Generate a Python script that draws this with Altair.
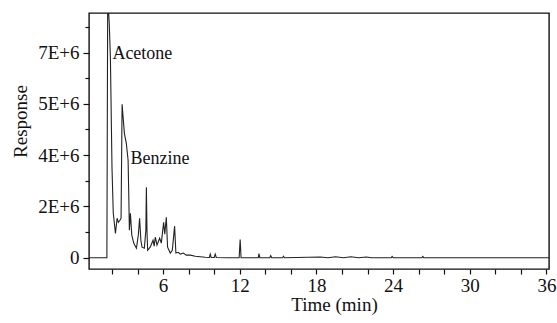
import altair as alt
import pandas as pd

# Chromatogram trace: retention time (min) and detector response
time_min = [
    0.2, 1.60, 1.66, 1.69, 1.78, 1.875, 2.0, 2.1, 2.27, 2.40, 2.5, 2.62, 2.71,
    2.79, 2.97, 3.12, 3.26, 3.32, 3.36, 3.44, 3.55, 3.70, 3.91, 4.06, 4.16,
    4.26, 4.35, 4.53, 4.65, 4.69, 4.74, 4.79, 5.0, 5.21, 5.3, 5.39, 5.52, 5.73,
    5.86, 6.04, 6.13, 6.25, 6.35, 6.56, 6.72, 6.90, 7.0, 7.19, 7.34, 7.58,
    7.81, 8.13, 8.52, 8.9, 9.3, 9.62, 9.69, 9.76, 10.0, 10.08, 10.16, 11.0,
    11.95, 12.03, 12.1, 13.0, 13.45, 13.5, 13.57, 14.35, 14.42, 14.5, 15.35,
    15.42, 15.5, 18.3, 18.9, 19.5, 20.1, 20.7, 21.3, 21.9, 22.3, 23.85, 23.92,
    24.0, 26.25, 26.32, 26.4, 36.2,
]
response = [
    0.0, 0.0, 9.6e6, 9.9e6, 9.2e6, 7.8e6, 3.5e6, 1.73e6, 0.95e6, 1.54e6,
    1.38e6, 1.46e6, 1.54e6, 5.98e6, 4.85e6, 4.46e6, 3.8e6, 2.24e6, 1.07e6,
    1.73e6, 0.88e6, 0.57e6, 0.37e6, 0.88e6, 1.54e6, 0.68e6, 0.41e6, 0.37e6,
    1.07e6, 2.75e6, 1.0e6, 0.29e6, 0.42e6, 0.68e6, 0.45e6, 0.8e6, 0.49e6,
    0.76e6, 0.57e6, 1.38e6, 0.92e6, 1.58e6, 0.41e6, 0.18e6, 0.29e6, 1.23e6,
    0.18e6, 0.21e6, 0.14e6, 0.18e6, 0.1e6, 0.1e6, 0.06e6, 0.04e6, 0.02e6,
    0.01e6, 0.14e6, 0.01e6, 0.01e6, 0.14e6, 0.01e6, 0.0, 0.0, 0.71e6, 0.0,
    0.0, 0.0, 0.16e6, 0.0, 0.0, 0.08e6, 0.0, 0.0, 0.06e6, 0.0, 0.03e6, 0.0,
    0.04e6, 0.0, 0.04e6, 0.0, 0.03e6, 0.0, 0.0, 0.05e6, 0.0, 0.0, 0.05e6,
    0.0, 0.0,
]

# Peak annotations
peak_names = ["Acetone", "Benzine"]
peak_time = [2.03, 3.44]
peak_resp = [7.93e6, 3.84e6]

# Axis ticks
x_ticks = list(range(2, 37, 2))
y_ticks = [0, 1e6, 2e6, 3e6, 4e6, 5e6, 6e6, 7e6, 8e6, 9e6]
y_label_values = [0, 2e6, 4e6, 6e6, 8e6]
y_label_texts = ["0", "2E+6", "4E+6", "5E+6", "7E+6"]

FONT = "Liberation Serif"
INK = "#111111"
AXIS_FS = 19

trace = pd.DataFrame({"t": time_min, "r": response})
peaks = pd.DataFrame({"name": peak_names, "t": peak_time, "r": peak_resp})

y_label_expr = " : ".join(
    f"datum.value == {int(v)} ? '{s}'" for v, s in zip(y_label_values, y_label_texts)
) + " : ''"
y_major_test = " || ".join(f"datum.value == {int(v)}" for v in y_label_values)

x_scale = alt.Scale(domain=[0.2, 36.2], nice=False, zero=False)
y_scale = alt.Scale(domain=[-0.44e6, 9.54e6], nice=False, zero=False)

x_axis = alt.Axis(
    values=x_ticks,
    labelExpr="datum.value % 6 === 0 ? '' + datum.value : ''",
    labelOverlap=False,
    labelBound=False,
    labelFlush=False,
    title="Time (min)",
    titleX=245,
    titleY=41,
    titleAnchor="start",
    titleAlign="center",
    titleBaseline="alphabetic",
    domain=False,
    grid=False,
    ticks=True,
    tickSize=5,
    tickColor=INK,
    tickWidth=1.2,
    labelPadding=2,
    labelFont=FONT,
    labelFontSize=AXIS_FS,
    labelColor=INK,
    titleFont=FONT,
    titleFontSize=AXIS_FS,
    titleFontWeight="normal",
    titleColor=INK,
)

y_axis = alt.Axis(
    values=y_ticks,
    labelExpr=y_label_expr,
    labelOverlap=False,
    labelBound=False,
    labelFlush=False,
    title="Response",
    titleX=-69,
    titleY=108,
    titleAngle=270,
    titleAlign="center",
    titleBaseline="middle",
    domain=False,
    grid=False,
    ticks=True,
    tickSize={"condition": {"test": y_major_test, "value": 6}, "value": 4},
    tickColor=INK,
    tickWidth=1.2,
    labelPadding=4,
    labelFont=FONT,
    labelFontSize=AXIS_FS,
    labelColor=INK,
    titleFont=FONT,
    titleFontSize=AXIS_FS,
    titleFontWeight="normal",
    titleColor=INK,
)

line = alt.Chart(trace).mark_line(
    color="#222222", strokeWidth=1.1, clip=True, interpolate="linear"
).encode(
    x=alt.X("t:Q", scale=x_scale, axis=x_axis),
    y=alt.Y("r:Q", scale=y_scale, axis=y_axis),
)

labels = alt.Chart(peaks).mark_text(
    align="left", baseline="middle", font=FONT, fontSize=18, color=INK
).encode(
    x=alt.X("t:Q", scale=x_scale, axis=x_axis),
    y=alt.Y("r:Q", scale=y_scale, axis=y_axis),
    text="name:N",
)

chart = (
    alt.layer(line, labels)
    .properties(
        width=460,
        height=256,
        autosize=alt.AutoSizeParams(type="none"),
        padding={"left": 89, "top": 13, "right": 8, "bottom": 54},
        background="white",
    )
    .configure_view(stroke=INK, strokeWidth=1.4)
)

chart.save("out.html", embed_options={"renderer": "svg", "actions": False})
